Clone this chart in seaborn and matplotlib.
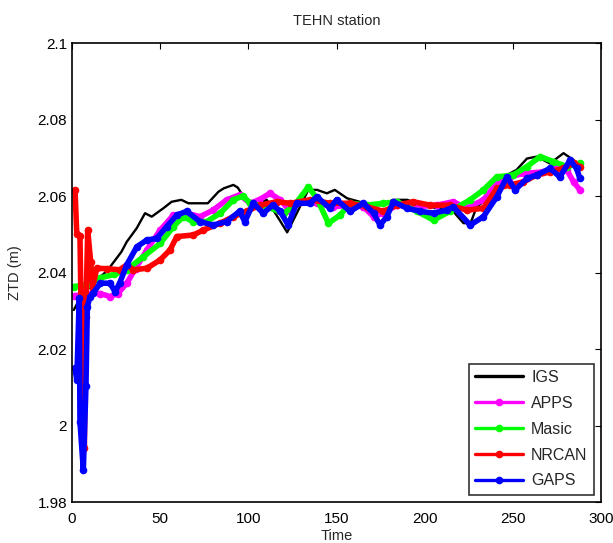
import numpy as np
import pandas as pd
import seaborn as sns
import matplotlib
matplotlib.use("Agg")
import matplotlib.pyplot as plt

sns.set_style("white")
plt.rcParams['font.family'] = ['Liberation Sans', 'DejaVu Sans']

# IGS (reference, black)
igs_t = [1, 5, 12, 20, 28, 31, 36.7, 41.4, 45.2, 51.8, 56.5, 62, 66, 77, 83, 86, 91.5, 94,
         97, 101, 106, 110.4, 118, 122, 125.5, 134, 139, 144.5, 149, 156, 163, 169, 177, 182,
         190, 199, 207, 214, 218, 222, 226, 229.5, 237, 244.6, 252, 258, 263.6, 271, 278.7,
         284.4, 288]
igs_v = [2.0302, 2.0337, 2.0372, 2.0405, 2.0454, 2.0480, 2.0516, 2.0555, 2.0546, 2.0568,
         2.0585, 2.0590, 2.0581, 2.0581, 2.0611, 2.0620, 2.0629, 2.0622, 2.0600, 2.0576,
         2.0580, 2.0590, 2.0535, 2.0505, 2.0537, 2.0616, 2.0616, 2.0607, 2.0616, 2.0594,
         2.0585, 2.0576, 2.0576, 2.0590, 2.0590, 2.0576, 2.0568, 2.0572, 2.0550, 2.0529,
         2.0529, 2.0572, 2.0598, 2.0650, 2.0668, 2.0698, 2.0703, 2.0685, 2.0712, 2.0694,
         2.0677]

# APPS (magenta)
apps_t = [1, 10, 16, 21.5, 26, 31, 36, 42.4, 50, 57.5, 65, 72.6, 80, 87.7, 95, 101, 106,
          112.3, 118, 123.7, 129.3, 138.8, 148, 157.7, 165.2, 171, 176.6, 184.2, 195.5,
          206.8, 216.2, 223.9, 233.3, 240.9, 248.4, 256, 267.3, 274.9, 280.6, 284.4, 288]
apps_v = [2.0339, 2.0345, 2.0345, 2.0337, 2.0345, 2.0372, 2.0410, 2.0459, 2.0511, 2.0550,
          2.0555, 2.0546, 2.0563, 2.0590, 2.0603, 2.0581, 2.0590, 2.0607, 2.0590, 2.0560,
          2.0585, 2.0581, 2.0572, 2.0576, 2.0572, 2.0546, 2.0555, 2.0576, 2.0572, 2.0576,
          2.0585, 2.0568, 2.0590, 2.0633, 2.0650, 2.0659, 2.0663, 2.0672, 2.0668, 2.0637,
          2.0616]

# Masic (green)
masic_t = [1, 10, 16, 24, 31, 40.4, 50, 57.5, 63, 68.8, 76.4, 84, 91.5, 97, 101, 110.4,
           120, 125.5, 134, 138.8, 145.4, 152, 157.7, 167, 176.6, 184.2, 195.5, 205, 214.4,
           225.8, 233.3, 240.9, 250.3, 258, 265.5, 273, 280.6, 288]
masic_v = [2.0363, 2.0370, 2.0386, 2.0395, 2.0407, 2.0441, 2.0476, 2.0520, 2.0546, 2.0533,
           2.0533, 2.0555, 2.0590, 2.0600, 2.0581, 2.0572, 2.0555, 2.0572, 2.0624, 2.0594,
           2.0529, 2.0550, 2.0581, 2.0576, 2.0581, 2.0585, 2.0560, 2.0537, 2.0560, 2.0590,
           2.0616, 2.0650, 2.0655, 2.0677, 2.0703, 2.0690, 2.0677, 2.0685]

# NRCAN (red)
nrcan_t = [1.7, 2.7, 4.5, 5.5, 7, 7.8, 8.9, 10.6, 11.7, 14, 20, 27, 31, 34.8, 42.4, 50,
           55.6, 59.4, 68.8, 74.5, 84, 91.5, 99, 106.6, 116, 123.7, 135, 146.3, 157.7, 167,
           176.6, 184.2, 193.6, 203, 214.4, 223.9, 233.3, 240.9, 248.4, 256, 263.6, 271,
           278.7, 284.4, 288]
nrcan_v = [2.0616, 2.0500, 2.0495, 2.0197, 1.9941, 2.0284, 2.0511, 2.0427, 2.0360, 2.0411,
           2.0410, 2.0407, 2.0420, 2.0407, 2.0411, 2.0433, 2.0459, 2.0494, 2.0498, 2.0511,
           2.0529, 2.0546, 2.0560, 2.0576, 2.0585, 2.0581, 2.0590, 2.0581, 2.0581, 2.0572,
           2.0560, 2.0576, 2.0585, 2.0576, 2.0576, 2.0563, 2.0568, 2.0620, 2.0629, 2.0637,
           2.0655, 2.0663, 2.0672, 2.0685, 2.0677]

# GAPS (blue)
gaps_t = [1.7, 2.7, 4.1, 4.5, 6.4, 7.9, 8.7, 10.2, 12, 16, 21.5, 24.4, 27, 31, 36.7, 42.4,
          48, 53.7, 59.4, 65, 72.6, 80, 87.7, 95, 98, 102.8, 108.5, 114, 118, 122.6, 127.3,
          135, 138.8, 146.3, 150, 157.7, 165.2, 171, 174.7, 178.5, 182.3, 190, 197.4, 205,
          212.5, 216.2, 225.8, 233.3, 240.9, 246.6, 251.3, 258, 263.6, 271, 276.7, 282.4,
          286.1, 288]
gaps_v = [2.0150, 2.0119, 2.0333, 2.0010, 1.9884, 2.0103, 2.0311, 2.0337, 2.0346, 2.0372,
          2.0372, 2.0350, 2.0372, 2.0420, 2.0467, 2.0485, 2.0489, 2.0520, 2.0550, 2.0560,
          2.0533, 2.0524, 2.0533, 2.0560, 2.0533, 2.0581, 2.0555, 2.0577, 2.0560, 2.0524,
          2.0581, 2.0581, 2.0598, 2.0568, 2.0590, 2.0560, 2.0581, 2.0555, 2.0524, 2.0546,
          2.0585, 2.0568, 2.0560, 2.0555, 2.0563, 2.0572, 2.0524, 2.0546, 2.0598, 2.0650,
          2.0616, 2.0646, 2.0655, 2.0672, 2.0650, 2.0694, 2.0672, 2.0646]

series = [("IGS", igs_t, igs_v, "black"),
          ("APPS", apps_t, apps_v, "#ff00ff"),
          ("Masic", masic_t, masic_v, "#00ff00"),
          ("NRCAN", nrcan_t, nrcan_v, "#ff0000"),
          ("GAPS", gaps_t, gaps_v, "#0000ff")]

fig = plt.figure(figsize=(6.13, 5.43), dpi=100)
ax = fig.add_axes([0.1175, 0.0755, 0.863, 0.8453])

for name, t, v, col in series:
    assert len(t) == len(v), name
    df = pd.DataFrame({"Time": t, "ZTD": v})
    if name == "IGS":
        sns.lineplot(data=df, x="Time", y="ZTD", ax=ax, color=col, lw=1.7,
                     sort=False, estimator=None, label=name)
    else:
        sns.lineplot(data=df, x="Time", y="ZTD", ax=ax, color=col, lw=4.0,
                     marker="o", markersize=5.5, markeredgewidth=0,
                     sort=False, estimator=None, label=name)

ax.set_xlim(0, 300)
ax.set_ylim(1.98, 2.1)
ax.set_xticks(np.arange(0, 301, 50))
yt = [1.98, 2.0, 2.02, 2.04, 2.06, 2.08, 2.1]
ax.set_yticks(yt)
ax.set_yticklabels(["1.98", "2", "2.02", "2.04", "2.06", "2.08", "2.1"])
ax.tick_params(direction="in", top=True, right=True, labelsize=11, length=4,
               width=0.8, colors="black")
ax.tick_params(axis="x", pad=7)
for s in ax.spines.values():
    s.set_color("black")
    s.set_linewidth(1.2)

ax.set_title("TEHN station", fontsize=10.5, pad=13)
ax.set_xlabel("Time", fontsize=10.5, labelpad=2)
ax.set_ylabel("ZTD (m)", fontsize=10.5, labelpad=11)

leg = ax.legend(loc="lower right", fontsize=11.5, frameon=True, fancybox=False,
                borderaxespad=0.45, handlelength=3.0, labelspacing=0.68,
                handletextpad=0.5)
leg.get_frame().set_edgecolor("black")
leg.get_frame().set_linewidth(1.2)
for h in leg.get_lines():
    h.set_linewidth(2.4)

fig.savefig("out.png", dpi=100)
